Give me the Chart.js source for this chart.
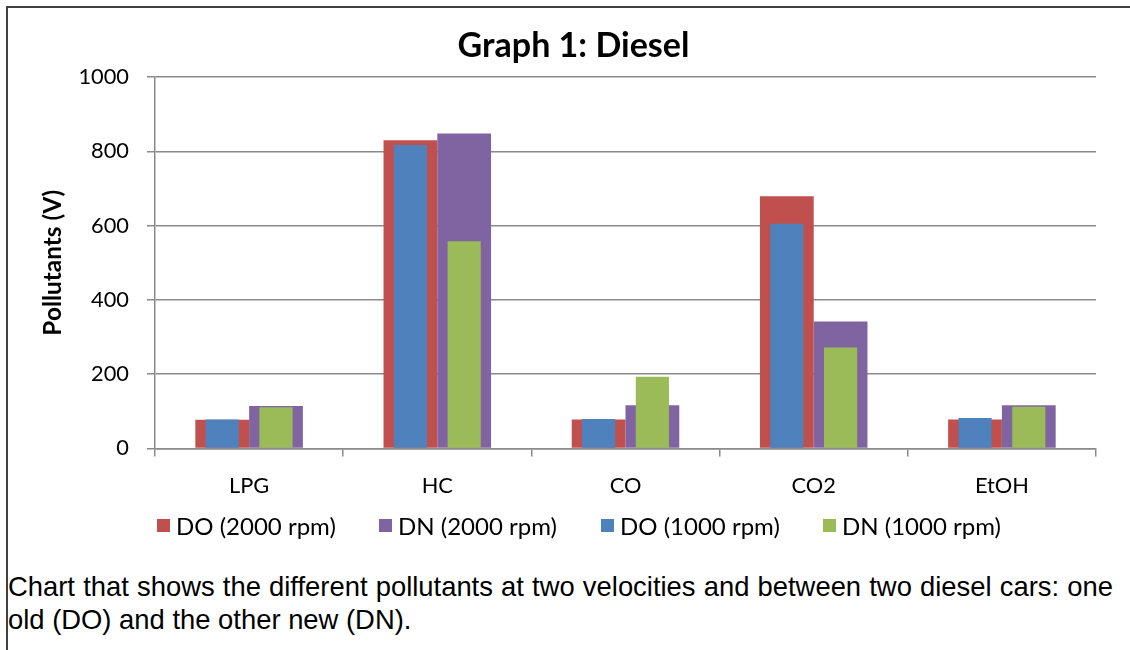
<!DOCTYPE html>
<html>
<head>
<meta charset="utf-8">
<script src="https://cdn.jsdelivr.net/npm/chart.js@4.4.0/dist/chart.umd.min.js"></script>
<style>
html,body{margin:0;padding:0;background:#fff;overflow:hidden;width:1130px;height:650px;}
#frame{position:absolute;left:6px;top:6px;width:1200px;height:700px;border-left:2px solid #404040;border-top:2px solid #404040;}
#wrap{position:absolute;left:0;top:0;width:1110px;height:560px;}
#legend{position:absolute;left:0;top:0;width:1130px;height:0;}
.item{position:absolute;display:flex;align-items:center;height:30px;white-space:nowrap;font-family:Lato;color:#000;}
.box{width:13px;height:13px;margin-right:6px;flex:none;}
#caption{position:absolute;left:8px;top:570px;width:1105px;font-family:"Liberation Sans";color:#000;text-align:justify;line-height:33px;}
</style>
</head>
<body>
<div id="frame"></div>
<div id="wrap"><canvas id="c" width="1110" height="560"></canvas></div>
<div id="legend"></div>
<div id="caption">Chart that shows the different pollutants at two velocities and between two diesel cars: one old (DO) and the other new (DN).</div>
<script>
// ---- data ----
const categories = ['LPG', 'HC', 'CO', 'CO2', 'EtOH'];
const seriesNames = ['DO (2000 rpm)', 'DN (2000 rpm)', 'DO (1000 rpm)', 'DN (1000 rpm)'];
const do2000 = [77, 830, 78, 679, 78];
const dn2000 = [114, 848, 116, 342, 116];
const do1000 = [78, 817, 79, 605, 82];
const dn1000 = [111, 558, 193, 272, 112];
const yTickValues = [0, 200, 400, 600, 800, 1000];
const chartTitle = 'Graph 1: Diesel';
const yTitle = 'Pollutants (V)';
const captionLine1 = 'Chart that shows the different pollutants at two velocities and between two diesel cars: one';
const captionLine2 = 'old (DO) and the other new (DN).';

// ---- styles ----
const seriesColors = ['#C0504D', '#8064A2', '#4F81BD', '#9BBB59'];
const gridColor = '#8a8a8a';

const mc = document.createElement('canvas').getContext('2d');
function fit(text, weight, family, target) {
  mc.font = weight + ' 100px ' + family;
  return 100 * target / mc.measureText(text).width;
}

function build() {
  const tickSize = fit('1000', 'normal', 'Lato', 50.6);
  const titleSize = fit(chartTitle, 'bold', 'Lato', 232);
  const yTitleSize = fit(yTitle, 'bold', 'Lato', 146);
  const legendSize = fit(seriesNames[0], 'normal', 'Lato', 160);
  const capSize = Math.min(fit(captionLine2, 'normal', '"Liberation Sans"', 409),
                           fit(captionLine1, 'normal', '"Liberation Sans"', 1098));

  const titleLH = titleSize * 1.2;
  const titlePadTop = 46 - titleLH / 2;
  const titlePadBottom = 77 - titlePadTop - titleLH;
  const tickLH = tickSize * 1.2;
  const xPad = 486 - 448.4 - 8 - tickLH / 2;
  const yTitleLH = yTitleSize * 1.2;
  const padLeft = 51;

  const wideCat = 2 / 3.5;
  const ds = [
    {label: seriesNames[0], data: do2000, backgroundColor: seriesColors[0], stack: 'old', order: 2, barPercentage: 1.0},
    {label: seriesNames[1], data: dn2000, backgroundColor: seriesColors[1], stack: 'new', order: 2, barPercentage: 1.0},
    {label: seriesNames[2], data: do1000, backgroundColor: seriesColors[2], stack: 'old', order: 1, barPercentage: 0.617},
    {label: seriesNames[3], data: dn1000, backgroundColor: seriesColors[3], stack: 'new', order: 1, barPercentage: 0.617}
  ];
  ds.forEach(d => { d.borderWidth = 0; d.inflateAmount = 0; d.categoryPercentage = wideCat; });

  new Chart(document.getElementById('c'), {
    type: 'bar',
    data: {labels: categories, datasets: ds},
    options: {
      responsive: false,
      animation: false,
      layout: {padding: {left: padLeft, right: 1110 - 1096, top: 0, bottom: 560 - 60 - 448.4}},
      plugins: {
        legend: {display: false},
        tooltip: {enabled: false},
        title: {
          display: true, text: chartTitle, color: '#000',
          font: {family: 'Lato', weight: 'bold', size: titleSize, lineHeight: 1.2},
          padding: {top: titlePadTop, bottom: titlePadBottom}
        }
      },
      scales: {
        x: {
          type: 'category', offset: true, stacked: true,
          grid: {offset: true, drawOnChartArea: false, drawTicks: true, tickLength: 8, color: gridColor, lineWidth: 1.5},
          border: {color: gridColor, width: 1.5},
          ticks: {color: '#000', font: {family: 'Lato', size: tickSize, lineHeight: 1.2}, padding: xPad, maxRotation: 0, autoSkip: false},
          afterFit(s) { s.height = 60; }
        },
        y: {
          min: 0, max: 1000, stacked: false,
          afterBuildTicks(s) { s.ticks = yTickValues.map(v => ({value: v})); },
          grid: {color: gridColor, lineWidth: 1.5, tickLength: 8, drawTicks: true},
          border: {color: gridColor, width: 1.5},
          ticks: {color: '#000', font: {family: 'Lato', size: tickSize, lineHeight: 1.2}, padding: 18,
                  callback: v => String(v)},
          title: {display: true, text: yTitle, color: '#000',
                  font: {family: 'Lato', weight: 'bold', size: yTitleSize, lineHeight: 1.2},
                  padding: {top: 53 - padLeft - yTitleLH / 2, bottom: 0}},
          afterFit(s) { s.width = 155 - padLeft; }
        }
      }
    }
  });

  // legend
  const lg = document.getElementById('legend');
  seriesNames.forEach((n, i) => {
    const it = document.createElement('div');
    it.className = 'item';
    it.style.left = (157 + i * 222) + 'px';
    it.style.top = (525 - 15) + 'px';
    it.style.fontSize = legendSize + 'px';
    const b = document.createElement('span');
    b.className = 'box';
    b.style.background = seriesColors[i];
    const t = document.createElement('span');
    t.textContent = n;
    it.appendChild(b); it.appendChild(t);
    lg.appendChild(it);
  });
  document.getElementById('caption').style.fontSize = capSize + 'px';
}

Promise.all([
  document.fonts.load('20px Lato'),
  document.fonts.load('bold 20px Lato'),
  document.fonts.load('20px "Liberation Sans"')
]).then(build, build);
</script>
</body>
</html>
